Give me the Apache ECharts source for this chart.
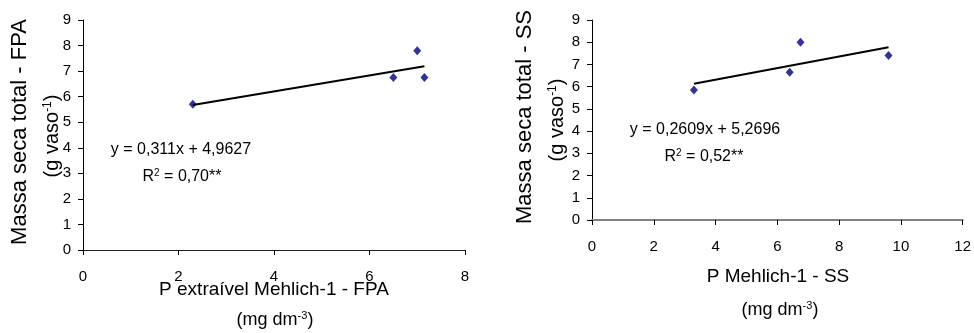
<!DOCTYPE html>
<html><head><meta charset="utf-8">
<script src="https://cdn.jsdelivr.net/npm/echarts@6/dist/echarts.min.js"></script>
<style>html,body{margin:0;padding:0;background:#fff}#c{width:974px;height:333px}</style>
</head><body><div id="c"></div>
<script>
// Left chart (FPA)
const fpaX = [2.3, 6.5, 7.0, 7.15];
const fpaY = [5.7, 6.75, 7.8, 6.75];
const fpaSlope = 0.311, fpaIntercept = 4.9627;
const fpaEq = 'y = 0,311x + 4,9627';
const fpaR2 = '0,70**';
// Right chart (SS)
const ssX = [3.3, 6.4, 6.75, 9.6];
const ssY = [5.85, 6.65, 8.0, 7.4];
const ssSlope = 0.2609, ssIntercept = 5.2696;
const ssEq = 'y = 0,2609x + 5,2696';
const ssR2 = '0,52**';
const yTicks = [0,1,2,3,4,5,6,7,8,9];

const FONT = '"Liberation Sans", Arial, sans-serif';
function pts(xs, ys){ return xs.map((x,i)=>[x, ys[i]]); }
function trend(xs, a, b){ const lo=Math.min(...xs), hi=Math.max(...xs); return [[lo, a*lo+b],[hi, a*hi+b]]; }

const chart = echarts.init(document.getElementById('c'), null, {renderer:'canvas'});
const axisLbl = {color:'#000', fontSize:15, fontFamily:FONT};
function xAx(gi, max, lineColor, lineW){
  return {gridIndex:gi, type:'value', min:0, max:max, interval:2,
    axisLine:{show:true, onZero:false, lineStyle:{color:lineColor, width:lineW}},
    axisTick:{show:true, inside:false, length:5, lineStyle:{color:'#000'}},
    axisLabel:Object.assign({margin:19}, axisLbl), splitLine:{show:false}};
}
function yAx(gi){
  return {gridIndex:gi, type:'value', min:yTicks[0], max:yTicks[yTicks.length-1], interval:1,
    axisLine:{show:true, onZero:false, lineStyle:{color:'#000', width:1}},
    axisTick:{show:true, length:5, lineStyle:{color:'#000'}},
    axisLabel:Object.assign({margin:12}, axisLbl), splitLine:{show:false}};
}
function txt(x, y, text, size, rot){
  return {type:'text', x:x, y:y, rotation:rot||0,
    style:{text:text, fontSize:size, fontFamily:FONT, fill:'#000', align:'center', verticalAlign:'middle',
      rich:{sup:{fontSize:Math.round(size*0.6), fontFamily:FONT, fill:'#000', padding:[0,0,Math.round(size*0.45),0]}}}};
}
const R90 = Math.PI/2;
chart.setOption({
  animation:false,
  grid:[{left:83, top:20, width:382, height:230},{left:592, top:20, width:372, height:200}],
  xAxis:[xAx(0, 8, '#202020', 1), xAx(1, 12, '#808080', 2)],
  yAxis:[yAx(0), yAx(1)],
  series:[
    {type:'line', xAxisIndex:0, yAxisIndex:0, data:trend(fpaX, fpaSlope, fpaIntercept), symbol:'none', lineStyle:{color:'#000', width:2}},
    {type:'scatter', xAxisIndex:0, yAxisIndex:0, data:pts(fpaX, fpaY), symbol:'diamond', symbolSize:[8,9], itemStyle:{color:'#00007a'}},
    {type:'line', xAxisIndex:1, yAxisIndex:1, data:trend(ssX, ssSlope, ssIntercept), symbol:'none', lineStyle:{color:'#000', width:2}},
    {type:'scatter', xAxisIndex:1, yAxisIndex:1, data:pts(ssX, ssY), symbol:'diamond', symbolSize:[8,9], itemStyle:{color:'#00007a'}}
  ],
  graphic:[
    txt(20, 132, 'Massa seca total - FPA', 22, R90),
    txt(52, 136, '(g vaso{sup|-1})', 20, R90),
    txt(274, 290, 'P extraível Mehlich-1 - FPA', 19),
    txt(275, 320, '(mg dm{sup|-3})', 18),
    txt(181, 150, fpaEq, 16),
    txt(182, 177, 'R{sup|2} = ' + fpaR2, 16),
    txt(525, 117, 'Massa seca total - SS', 22, R90),
    txt(557, 120, '(g vaso{sup|-1})', 20, R90),
    txt(778, 277, 'P Mehlich-1 - SS', 19),
    txt(780, 310, '(mg dm{sup|-3})', 18),
    txt(705, 130, ssEq, 16),
    txt(704, 157, 'R{sup|2} = ' + ssR2, 16)
  ]
});
</script></body></html>
